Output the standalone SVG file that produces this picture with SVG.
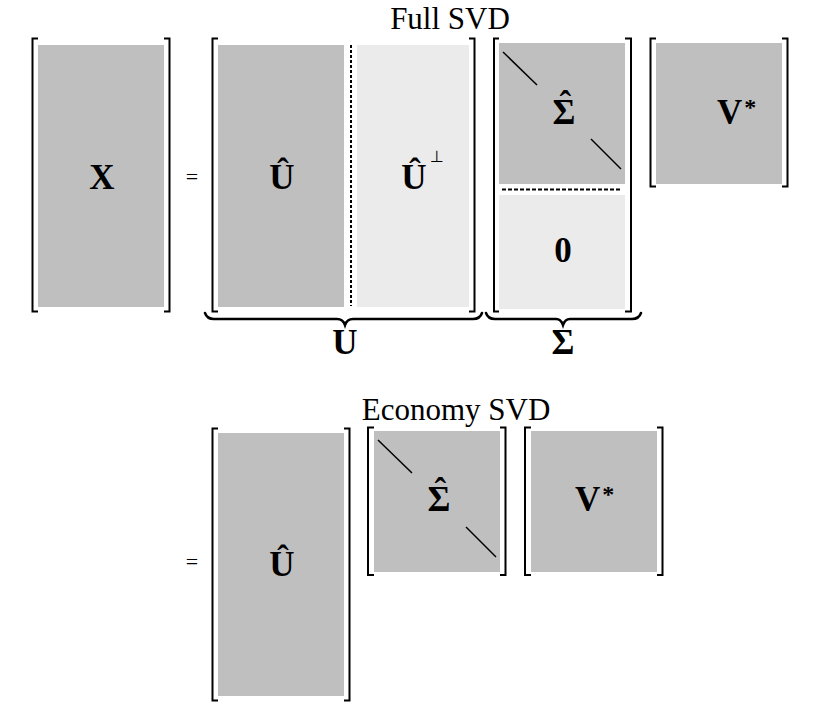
<svg xmlns="http://www.w3.org/2000/svg" width="836" height="716" viewBox="0 0 836 716">
<style>
.dark{fill:#bfbfbf}
.light{fill:#ebebeb}
.br{fill:none;stroke:#000;stroke-width:2}
.lbl{font-family:"Liberation Serif","DejaVu Serif",serif;font-weight:bold;font-size:35px;text-anchor:middle;fill:#000}
.lbls{font-family:"Liberation Serif","DejaVu Serif",serif;font-weight:bold;font-size:35px;fill:#000}
.ttl{font-family:"Liberation Serif","DejaVu Serif",serif;font-size:31px;text-anchor:middle;fill:#000}
.eq{font-family:"Liberation Serif","DejaVu Serif",serif;font-size:22px;text-anchor:middle;fill:#000}
.sup{font-family:"Liberation Serif","DejaVu Serif",serif;font-size:24px;fill:#000}
.perp{font-family:"DejaVu Sans",sans-serif;font-size:16px;fill:#000}
.diag{stroke:#000;stroke-width:1.5}
.brace{fill:none;stroke:#000;stroke-width:2.5;stroke-linecap:round}
</style>
<rect width="836" height="716" fill="#fff"/>
<text class="ttl" x="450" y="29">Full SVD</text>
<text class="ttl" x="456" y="420">Economy SVD</text>

<g id="X">
<rect class="dark" x="38" y="45" width="126" height="262"/>
<path class="br" d="M38 38.5H32.5V311.5H38"/>
<path class="br" d="M164 38.5H169.5V311.5H164"/>
<text class="lbl" x="102" y="189">X</text>
</g>
<text class="eq" x="192" y="184">=</text>

<g id="U">
<rect class="dark" x="218" y="45" width="126" height="262"/>
<rect class="light" x="357" y="45" width="112" height="262"/>
<line x1="351" y1="45" x2="351" y2="306" stroke="#000" stroke-width="2" stroke-dasharray="3 2"/>
<path class="br" d="M218 38.5H212.5V311.5H218"/>
<path class="br" d="M469 38.5H474.5V311.5H469"/>
<text class="lbl" x="282" y="189">Û</text>
<text class="lbl" x="414" y="189">Û</text>
<text class="perp" x="430" y="162">⊥</text>
</g>

<g id="Sigma">
<rect class="dark" x="499" y="43" width="126" height="141"/>
<rect class="light" x="499" y="195" width="126" height="114"/>
<line x1="502" y1="189.5" x2="621" y2="189.5" stroke="#000" stroke-width="1.8" stroke-dasharray="4 2"/>
<line class="diag" x1="503" y1="52" x2="537" y2="85"/>
<line class="diag" x1="591" y1="139" x2="621" y2="169"/>
<path class="br" d="M499 38.5H494V311.5H499"/>
<path class="br" d="M625 38.5H631V311.5H625"/>
<text class="lbls" x="552.5" y="124">Σ<tspan dx="-16" dy="-8">ˆ</tspan></text>
<text class="lbl" x="563" y="262">0</text>
</g>

<g id="Vstar">
<rect class="dark" x="656" y="43" width="126" height="141"/>
<path class="br" d="M656 38.5H650.5V186.5H656"/>
<path class="br" d="M782 38.5H787.5V186.5H782"/>
<text class="lbls" x="717" y="124">V<tspan class="sup" dx="2" dy="-9">*</tspan></text>
</g>

<g id="connectors">
<path class="brace" d="M205 313Q207 319 214 319H337Q343 319 345 325Q347 319 353 319H473Q480 319 482 313"/>
<path class="brace" d="M486 313Q488 319 495 319H556Q561 319 563 325Q565 319 570 319H632Q639 319 641 313"/>
</g>
<text class="lbl" x="345" y="354">U</text>
<text class="lbl" x="563" y="354">Σ</text>

<text class="eq" x="192" y="569">=</text>
<g id="Uhat_econ">
<rect class="dark" x="218" y="433" width="126" height="263"/>
<path class="br" d="M218 428.5H212.5V700.5H218"/>
<path class="br" d="M344 428.5H349.5V700.5H344"/>
<text class="lbl" x="282" y="576">Û</text>
</g>

<g id="Sigmahat_econ">
<rect class="dark" x="374" y="431" width="126" height="141"/>
<line class="diag" x1="378" y1="440" x2="412" y2="473"/>
<line class="diag" x1="466" y1="527" x2="496" y2="557"/>
<path class="br" d="M374 427.5H368V575H374"/>
<path class="br" d="M500 427.5H505.5V575H500"/>
<text class="lbls" x="427.5" y="511">Σ<tspan dx="-16" dy="-8">ˆ</tspan></text>
</g>

<g id="Vstar_econ">
<rect class="dark" x="531" y="431" width="126" height="141"/>
<path class="br" d="M531 427.5H525V575H531"/>
<path class="br" d="M657 427.5H662.5V575H657"/>
<text class="lbls" x="575" y="511">V<tspan class="sup" dx="2" dy="-9">*</tspan></text>
</g>
</svg>
